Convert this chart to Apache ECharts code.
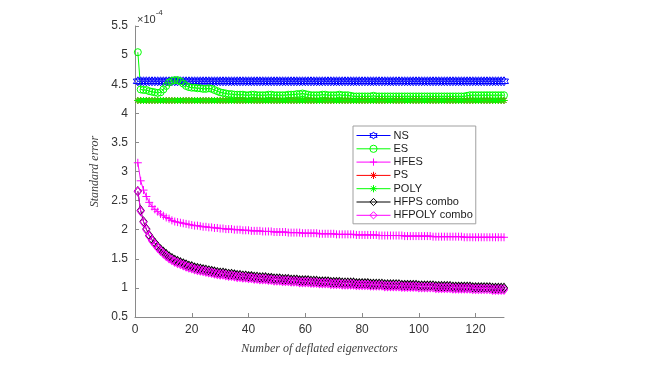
<!DOCTYPE html>
<html>
<head>
<meta charset="utf-8">
<title>Standard error vs deflated eigenvectors</title>
<script src="https://cdn.jsdelivr.net/npm/echarts@6/dist/echarts.min.js"></script>
<style>
  html, body { margin: 0; padding: 0; background: #fff; }
  #chart { width: 658px; height: 370px; }
</style>
</head>
<body>
<div id="chart"></div>
<script>
// values are in units of 1e-4 (axis shows x10^-4)
const xTicks = [0, 20, 40, 60, 80, 100, 120]

const NS = [
  4.55, 4.55, 4.55, 4.55, 4.55, 4.55, 4.55, 4.55, 4.55, 4.55,
  4.55, 4.55, 4.55, 4.55, 4.55, 4.55, 4.55, 4.55, 4.55, 4.55,
  4.55, 4.55, 4.55, 4.55, 4.55, 4.55, 4.55, 4.55, 4.55, 4.55,
  4.55, 4.55, 4.55, 4.55, 4.55, 4.55, 4.55, 4.55, 4.55, 4.55,
  4.55, 4.55, 4.55, 4.55, 4.55, 4.55, 4.55, 4.55, 4.55, 4.55,
  4.55, 4.55, 4.55, 4.55, 4.55, 4.55, 4.55, 4.55, 4.55, 4.55,
  4.55, 4.55, 4.55, 4.55, 4.55, 4.55, 4.55, 4.55, 4.55, 4.55,
  4.55, 4.55, 4.55, 4.55, 4.55, 4.55, 4.55, 4.55, 4.55, 4.55,
  4.55, 4.55, 4.55, 4.55, 4.55, 4.55, 4.55, 4.55, 4.55, 4.55,
  4.55, 4.55, 4.55, 4.55, 4.55, 4.55, 4.55, 4.55, 4.55, 4.55,
  4.55, 4.55, 4.55, 4.55, 4.55, 4.55, 4.55, 4.55, 4.55, 4.55,
  4.55, 4.55, 4.55, 4.55, 4.55, 4.55, 4.55, 4.55, 4.55, 4.55,
  4.55, 4.55, 4.55, 4.55, 4.55, 4.55, 4.55, 4.55, 4.55, 4.55
]

const ES = [
  5.05, 4.41, 4.40, 4.40, 4.38, 4.37, 4.36, 4.35, 4.36, 4.41,
  4.47, 4.53, 4.56, 4.57, 4.57, 4.55, 4.51, 4.47, 4.45, 4.44,
  4.44, 4.43, 4.43, 4.42, 4.42, 4.43, 4.42, 4.40, 4.38, 4.36,
  4.35, 4.34, 4.33, 4.33, 4.32, 4.32, 4.32, 4.32, 4.31, 4.31,
  4.32, 4.32, 4.31, 4.31, 4.31, 4.31, 4.32, 4.32, 4.31, 4.31,
  4.31, 4.31, 4.31, 4.32, 4.32, 4.32, 4.33, 4.33, 4.34, 4.33,
  4.32, 4.31, 4.31, 4.31, 4.31, 4.32, 4.32, 4.31, 4.31, 4.31,
  4.31, 4.32, 4.31, 4.31, 4.31, 4.30, 4.29, 4.29, 4.29, 4.29,
  4.29, 4.29, 4.29, 4.30, 4.29, 4.29, 4.29, 4.29, 4.29, 4.29,
  4.29, 4.29, 4.29, 4.29, 4.29, 4.29, 4.29, 4.29, 4.29, 4.29,
  4.29, 4.29, 4.29, 4.29, 4.29, 4.29, 4.29, 4.29, 4.29, 4.29,
  4.29, 4.29, 4.29, 4.29, 4.29, 4.29, 4.30, 4.31, 4.31, 4.31,
  4.31, 4.31, 4.31, 4.31, 4.31, 4.31, 4.31, 4.31, 4.31, 4.31
]

const HFES = [
  3.15, 2.84, 2.68, 2.57, 2.47, 2.40, 2.35, 2.31, 2.27, 2.24,
  2.21, 2.19, 2.16, 2.14, 2.13, 2.12, 2.11, 2.10, 2.09, 2.08,
  2.07, 2.07, 2.06, 2.05, 2.05, 2.04, 2.04, 2.03, 2.03, 2.02,
  2.02, 2.01, 2.01, 2.01, 2.00, 2.00, 2.00, 1.99, 1.99, 1.99,
  1.98, 1.98, 1.98, 1.98, 1.97, 1.97, 1.97, 1.97, 1.96, 1.96,
  1.96, 1.96, 1.96, 1.95, 1.95, 1.95, 1.95, 1.95, 1.94, 1.94,
  1.94, 1.94, 1.94, 1.94, 1.93, 1.93, 1.93, 1.93, 1.93, 1.93,
  1.92, 1.92, 1.92, 1.92, 1.92, 1.92, 1.92, 1.91, 1.91, 1.91,
  1.91, 1.91, 1.91, 1.91, 1.91, 1.90, 1.90, 1.90, 1.90, 1.90,
  1.90, 1.90, 1.90, 1.90, 1.89, 1.89, 1.89, 1.89, 1.89, 1.89,
  1.89, 1.89, 1.89, 1.89, 1.88, 1.88, 1.88, 1.88, 1.88, 1.88,
  1.88, 1.88, 1.88, 1.88, 1.88, 1.87, 1.87, 1.87, 1.87, 1.87,
  1.87, 1.87, 1.87, 1.87, 1.87, 1.87, 1.87, 1.87, 1.87, 1.87
]

const PS = [
  4.22, 4.22, 4.22, 4.22, 4.22, 4.22, 4.22, 4.22, 4.22, 4.22,
  4.22, 4.22, 4.22, 4.22, 4.22, 4.22, 4.22, 4.22, 4.22, 4.22,
  4.22, 4.22, 4.22, 4.22, 4.22, 4.22, 4.22, 4.22, 4.22, 4.22,
  4.22, 4.22, 4.22, 4.22, 4.22, 4.22, 4.22, 4.22, 4.22, 4.22,
  4.22, 4.22, 4.22, 4.22, 4.22, 4.22, 4.22, 4.22, 4.22, 4.22,
  4.22, 4.22, 4.22, 4.22, 4.22, 4.22, 4.22, 4.22, 4.22, 4.22,
  4.22, 4.22, 4.22, 4.22, 4.22, 4.22, 4.22, 4.22, 4.22, 4.22,
  4.22, 4.22, 4.22, 4.22, 4.22, 4.22, 4.22, 4.22, 4.22, 4.22,
  4.22, 4.22, 4.22, 4.22, 4.22, 4.22, 4.22, 4.22, 4.22, 4.22,
  4.22, 4.22, 4.22, 4.22, 4.22, 4.22, 4.22, 4.22, 4.22, 4.22,
  4.22, 4.22, 4.22, 4.22, 4.22, 4.22, 4.22, 4.22, 4.22, 4.22,
  4.22, 4.22, 4.22, 4.22, 4.22, 4.22, 4.22, 4.22, 4.22, 4.22,
  4.22, 4.22, 4.22, 4.22, 4.22, 4.22, 4.22, 4.22, 4.22, 4.22
]

const POLY = [
  4.22, 4.22, 4.22, 4.22, 4.22, 4.22, 4.22, 4.22, 4.22, 4.22,
  4.22, 4.22, 4.22, 4.22, 4.22, 4.22, 4.22, 4.22, 4.22, 4.22,
  4.22, 4.22, 4.22, 4.22, 4.22, 4.22, 4.22, 4.22, 4.22, 4.22,
  4.22, 4.22, 4.22, 4.22, 4.22, 4.22, 4.22, 4.22, 4.22, 4.22,
  4.22, 4.22, 4.22, 4.22, 4.22, 4.22, 4.22, 4.22, 4.22, 4.22,
  4.22, 4.22, 4.22, 4.22, 4.22, 4.22, 4.22, 4.22, 4.22, 4.22,
  4.22, 4.22, 4.22, 4.22, 4.22, 4.22, 4.22, 4.22, 4.22, 4.22,
  4.22, 4.22, 4.22, 4.22, 4.22, 4.22, 4.22, 4.22, 4.22, 4.22,
  4.22, 4.22, 4.22, 4.22, 4.22, 4.22, 4.22, 4.22, 4.22, 4.22,
  4.22, 4.22, 4.22, 4.22, 4.22, 4.22, 4.22, 4.22, 4.22, 4.22,
  4.22, 4.22, 4.22, 4.22, 4.22, 4.22, 4.22, 4.22, 4.22, 4.22,
  4.22, 4.22, 4.22, 4.22, 4.22, 4.22, 4.22, 4.22, 4.22, 4.22,
  4.22, 4.22, 4.22, 4.22, 4.22, 4.22, 4.22, 4.22, 4.22, 4.22
]

const HFPS = [
  2.66, 2.33, 2.14, 2.01, 1.90, 1.83, 1.77, 1.71, 1.66, 1.62,
  1.58, 1.54, 1.51, 1.48, 1.46, 1.44, 1.42, 1.40, 1.38, 1.37,
  1.35, 1.34, 1.33, 1.32, 1.31, 1.30, 1.29, 1.28, 1.27, 1.26,
  1.26, 1.25, 1.24, 1.24, 1.23, 1.22, 1.22, 1.21, 1.21, 1.20,
  1.20, 1.19, 1.19, 1.18, 1.18, 1.18, 1.17, 1.17, 1.16, 1.16,
  1.16, 1.15, 1.15, 1.15, 1.14, 1.14, 1.14, 1.13, 1.13, 1.13,
  1.13, 1.12, 1.12, 1.12, 1.11, 1.11, 1.11, 1.11, 1.10, 1.10,
  1.10, 1.10, 1.09, 1.09, 1.09, 1.09, 1.09, 1.08, 1.08, 1.08,
  1.08, 1.08, 1.07, 1.07, 1.07, 1.07, 1.07, 1.06, 1.06, 1.06,
  1.06, 1.06, 1.06, 1.05, 1.05, 1.05, 1.05, 1.05, 1.05, 1.04,
  1.04, 1.04, 1.04, 1.04, 1.04, 1.03, 1.03, 1.03, 1.03, 1.03,
  1.03, 1.02, 1.02, 1.02, 1.02, 1.02, 1.02, 1.02, 1.01, 1.01,
  1.01, 1.01, 1.01, 1.01, 1.01, 1.00, 1.00, 1.00, 1.00, 1.00
]

const HFPOLY = [
  2.66, 2.32, 2.13, 2.00, 1.89, 1.81, 1.75, 1.69, 1.64, 1.59,
  1.55, 1.51, 1.48, 1.45, 1.43, 1.41, 1.39, 1.37, 1.35, 1.34,
  1.32, 1.31, 1.30, 1.29, 1.28, 1.27, 1.26, 1.25, 1.24, 1.23,
  1.23, 1.22, 1.21, 1.21, 1.20, 1.19, 1.19, 1.18, 1.18, 1.17,
  1.17, 1.16, 1.16, 1.15, 1.15, 1.15, 1.14, 1.14, 1.13, 1.13,
  1.13, 1.12, 1.12, 1.12, 1.11, 1.11, 1.11, 1.10, 1.10, 1.10,
  1.10, 1.09, 1.09, 1.09, 1.08, 1.08, 1.08, 1.08, 1.07, 1.07,
  1.07, 1.07, 1.06, 1.06, 1.06, 1.06, 1.06, 1.05, 1.05, 1.05,
  1.05, 1.05, 1.04, 1.04, 1.04, 1.04, 1.04, 1.03, 1.03, 1.03,
  1.03, 1.03, 1.03, 1.02, 1.02, 1.02, 1.02, 1.02, 1.02, 1.01,
  1.01, 1.01, 1.01, 1.01, 1.01, 1.00, 1.00, 1.00, 1.00, 1.00,
  1.00, 0.99, 0.99, 0.99, 0.99, 0.99, 0.99, 0.99, 0.98, 0.98,
  0.98, 0.98, 0.98, 0.98, 0.98, 0.97, 0.97, 0.97, 0.97, 0.97
]

// marker shapes (MATLAB-like, outline only)
const HEXAGRAM = 'path://M50,0L64.45,24.97L93.3,25L78.9,50L93.3,75L64.45,75.03L50,100L35.55,75.03L6.7,75L21.1,50L6.7,25L35.55,24.97Z'
const PLUS = 'path://M50,0L50,100M0,50L100,50'
const ASTERISK = 'path://M50,0L50,100M0,50L100,50M15,15L85,85M85,15L15,85'

const chart = echarts.init(document.getElementById('chart'), null, { renderer: 'canvas' })

const legendItems = []

function makeSeries (name, values, color, symbol, size) {
  legendItems.push({
    name,
    itemStyle: { color: 'transparent', borderColor: color, borderWidth: 1 },
    lineStyle: { color, width: 1 }
  })
  return {
    name,
    type: 'line',
    data: values.map((v, i) => [i + 1, v]),
    symbol,
    symbolSize: size,
    showSymbol: true,
    lineStyle: { color, width: 1 },
    itemStyle: { color: 'transparent', borderColor: color, borderWidth: 1 },
    emphasis: { disabled: true },
    animation: false
  }
}

const series = [
  makeSeries('NS', NS, '#0000ff', HEXAGRAM, 9),
  makeSeries('ES', ES, '#00ff00', 'circle', 7),
  makeSeries('HFES', HFES, '#ff00ff', PLUS, 8),
  makeSeries('PS', PS, '#ff0000', ASTERISK, 7),
  makeSeries('POLY', POLY, '#00ff00', ASTERISK, 7),
  makeSeries('HFPS combo', HFPS, '#000000', 'diamond', [7, 9]),
  makeSeries('HFPOLY combo', HFPOLY, '#ff00ff', 'diamond', [7, 9])
]

const axisColor = '#8a8a8a'
const labelFont = { color: '#333', fontSize: 12, fontFamily: 'Liberation Sans, Arial, sans-serif' }
const nameFont = { color: '#404040', fontSize: 12, fontStyle: 'italic', fontFamily: 'Liberation Serif, DejaVu Serif, serif' }

chart.setOption({
  animation: false,
  backgroundColor: '#fff',
  grid: { left: 135, right: 154, top: 26, bottom: 53, outerBoundsMode: 'none' },
  legend: {
    data: legendItems,
    orient: 'vertical',
    left: 353,
    top: 126,
    itemWidth: 34,
    itemHeight: 9,
    itemGap: 2.3,
    padding: [4, 3, 3, 3],
    borderColor: '#a0a0a0',
    borderWidth: 1,
    backgroundColor: '#fff',
    textStyle: { color: '#1a1a1a', fontSize: 11, fontFamily: 'Liberation Sans, Arial, sans-serif', padding: [0, 0, 0, -2] },
    selectedMode: false
  },
  xAxis: {
    type: 'value',
    min: 0,
    max: 130,
    name: 'Number of deflated eigenvectors',
    nameLocation: 'middle',
    nameGap: 26,
    nameTextStyle: nameFont,
    axisLine: { lineStyle: { color: axisColor } },
    axisTick: { inside: true, length: 4, lineStyle: { color: axisColor }, customValues: xTicks },
    axisLabel: Object.assign({ margin: 7, customValues: xTicks }, labelFont),
    splitLine: { show: false }
  },
  yAxis: {
    type: 'value',
    min: 0.5,
    max: 5.5,
    interval: 0.5,
    name: 'Standard error',
    nameLocation: 'middle',
    nameGap: 30,
    nameTextStyle: nameFont,
    axisLine: { show: true, lineStyle: { color: axisColor } },
    axisTick: { show: true, inside: true, length: 4, lineStyle: { color: axisColor } },
    axisLabel: Object.assign({ margin: 7 }, labelFont),
    splitLine: { show: false }
  },
  graphic: [{
    type: 'text',
    left: 137,
    top: 9,
    style: {
      text: '{a|×10}{b|-4}',
      rich: {
        a: { fontSize: 11, fill: '#333', fontFamily: 'Liberation Sans, Arial, sans-serif', verticalAlign: 'bottom' },
        b: { fontSize: 8, fill: '#333', fontFamily: 'Liberation Sans, Arial, sans-serif', verticalAlign: 'top', padding: [0, 0, 8, 0] }
      }
    }
  }],
  series
})
</script>
</body>
</html>
